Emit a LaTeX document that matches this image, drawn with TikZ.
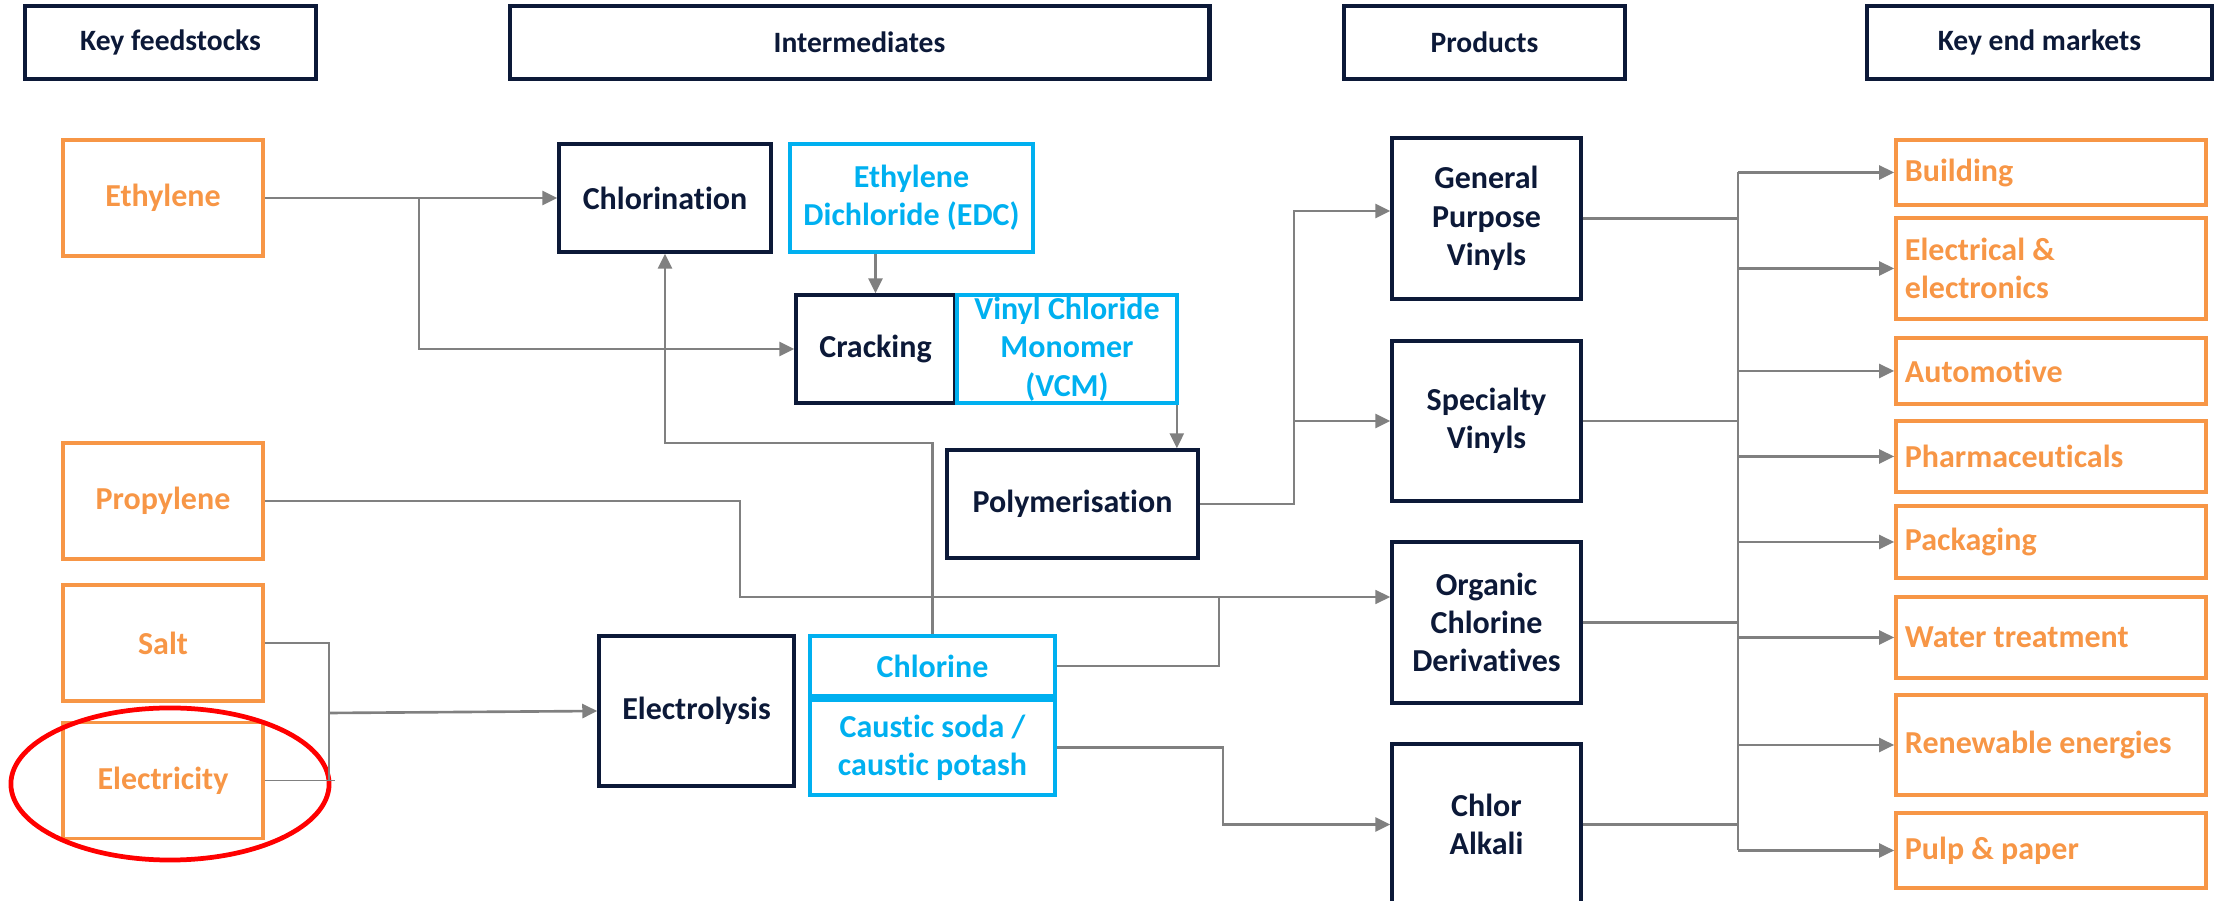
\documentclass[tikz,border=0pt]{standalone}
\usepackage{fontspec}
\setmainfont{Carlito}[Ligatures=NoCommon]
\usetikzlibrary{arrows.meta}
\definecolor{navy}{RGB}{12,25,56}
\definecolor{feedorange}{RGB}{247,150,70}
\definecolor{sky}{RGB}{0,176,240}
\definecolor{linkgray}{RGB}{128,128,128}
\tikzset{box/.style = {draw, inner sep=0pt, align=center, font=\fontsize{9.1}{10.9}\selectfont\bfseries},
  head/.style = {box, draw=navy, text=navy, line width=1.3pt, minimum height=0.73cm, font=\fontsize{8.4}{10}\selectfont\bfseries},
  stage/.style = {box, draw=navy, text=navy, line width=0.95pt},
  feed/.style = {box, draw=feedorange, text=feedorange, line width=1pt, minimum width=2cm, minimum height=1.16cm},
  chem/.style = {box, draw=sky, text=sky, line width=1pt},
  market/.style = {box, draw=feedorange, text=feedorange, line width=1pt, inner xsep=0.09cm, text width=2.92cm, align=flush left},
  link/.style = {draw=linkgray, line width=0.75pt},
  thinlink/.style = {draw=linkgray, line width=0.5pt}}

\begin{document}
\begin{tikzpicture}[x=0.01cm, y=-0.01cm, >={Triangle[length=0.15cm, width=0.14cm]}]
      \useasboundingbox (0,0) rectangle (2215,901);
      \node [head, minimum width=2.91cm] (hfeed) at (170.5,42.5) {Key feedstocks};
      \node [head, minimum width=6.99cm] (hinter) at (859.5,42.5) {Intermediates};
      \node [head, minimum width=2.81cm] (hprod) at (1484.5,42.5) {Products};
      \node [head, minimum width=3.45cm] (hmarket) at (2039.5,42.5) {Key end markets};

      \node [feed] (ethylene) at (163,198) {Ethylene};
      \node [feed] (propylene) at (163,501) {Propylene};
      \node [feed] (salt) at (163,643) {Salt};
      \node [feed] (electricity) at (163,780.5) {Electricity};
      \draw [red, line width=1.35pt] (170,784) ellipse [x radius=1.59cm, y radius=0.76cm];

      \node [stage, minimum width=2.12cm, minimum height=1.08cm] (chlorination) at (665,198) {Chlorination};
      \node [chem, minimum width=2.43cm, minimum height=1.08cm] (edc) at (911.5,198) {Ethylene\\Dichloride (EDC)};
      \node [stage, minimum width=1.59cm, minimum height=1.08cm] (cracking) at (875.5,349) {Cracking};
      \node [chem, minimum width=2.20cm, minimum height=1.08cm] (vcm) at (1067,349) {Vinyl Chloride\\Monomer\\(VCM)};
      \node [stage, minimum width=2.51cm, minimum height=1.08cm] (poly) at (1072.5,504) {Polymerisation};
      \node [stage, minimum width=1.95cm, minimum height=1.50cm] (electrolysis) at (696.5,711) {Electrolysis};
      \node [chem, minimum width=2.45cm, minimum height=0.60cm] (chlorine) at (932.5,666) {Chlorine};
      \node [chem, minimum width=2.45cm, minimum height=0.95cm] (caustic) at (932.5,747.5) {Caustic soda /\\caustic potash};

      \node [stage, minimum width=1.89cm, minimum height=1.61cm] (gpv) at (1486.5,218.5) {General\\Purpose\\Vinyls};
      \node [stage, minimum width=1.89cm, minimum height=1.60cm] (specialty) at (1486.5,421) {Specialty\\Vinyls};
      \node [stage, minimum width=1.89cm, minimum height=1.61cm] (organic) at (1486.5,622.5) {Organic\\Chlorine\\Derivatives};
      \node [stage, minimum width=1.89cm, minimum height=1.61cm] (chloralkali) at (1486.5,824.5) {Chlor\\Alkali};

      \node [market, minimum height=0.65cm] (building) at (2051,172.5) {Building};
      \node [market, minimum height=1.01cm] (electrical) at (2051,268.5) {Electrical \&\\electronics};
      \node [market, minimum height=0.66cm] (automotive) at (2051,371) {Automotive};
      \node [market, minimum height=0.71cm] (pharma) at (2051,456.5) {Pharmaceuticals};
      \node [market, minimum height=0.72cm] (packaging) at (2051,542) {Packaging};
      \node [market, minimum height=0.81cm] (water) at (2051,637.5) {Water treatment};
      \node [market, minimum height=1.00cm] (renewable) at (2051,745) {Renewable energies};
      \node [market, minimum height=0.75cm] (pulp) at (2051,850.5) {Pulp \& paper};

      \coordinate (ethsplit) at (419,198);
      \coordinate (clbend) at (932.5,443);
      \coordinate (propbend) at (740,597);
      \coordinate (orgjoin) at (1219,597);
      \coordinate (caubend) at (1223,824.5);
      \coordinate (selbus) at (329,713);
      \coordinate (selbot) at (329,781);
      \coordinate (elend) at (335,780.5);
      \coordinate (polybus) at (1294,211);
      \coordinate (mtop) at (1738,172.5);
      \coordinate (mbot) at (1738,850.5);

      \draw [link, ->] (ethylene.east) -- (chlorination.west);
      \draw [link, ->] (ethsplit) |- (cracking.west);
      \draw [link, ->] (edc.south -| cracking.north) -- (cracking.north);
      \draw [link, ->] ([xshift=-0.02cm]vcm.south east) -- ([xshift=-0.02cm]vcm.south east |- poly.north);
      \draw [link, ->] (chlorine.north) -- (clbend) -| (chlorination.south);
      \draw [thinlink, ->] (propylene.east) -| (propbend) -- (orgjoin -| organic.west);
      \draw [link] (chlorine.east) -| (orgjoin);
      \draw [link, ->] (caustic.east) -| (caubend) -- (chloralkali.west);
      \draw [thinlink] (salt.east) -| (selbot);
      \draw [thinlink] (electricity.east) -- (elend);
      \draw [link, ->] (selbus) -- (electrolysis.west);
      \draw [link, ->] (poly.east) -| (polybus) -- (polybus -| gpv.west);
      \draw [link, ->] (polybus |- specialty.west) -- (specialty.west);

      \draw [link] (gpv.east) -- (mtop |- gpv.east);
      \draw [link] (specialty.east) -- (mtop |- specialty.east);
      \draw [link] (organic.east) -- (mtop |- organic.east);
      \draw [link] (chloralkali.east) -- (mtop |- chloralkali.east);
      \draw [link] (mtop) -- (mbot);
      \draw [link, ->] (mtop) -- (building.west);
      \draw [link, ->] (mtop |- electrical.west) -- (electrical.west);
      \draw [link, ->] (mtop |- automotive.west) -- (automotive.west);
      \draw [link, ->] (mtop |- pharma.west) -- (pharma.west);
      \draw [link, ->] (mtop |- packaging.west) -- (packaging.west);
      \draw [link, ->] (mtop |- water.west) -- (water.west);
      \draw [link, ->] (mtop |- renewable.west) -- (renewable.west);
      \draw [link, ->] (mbot) -- (pulp.west);
\end{tikzpicture}
\end{document}
